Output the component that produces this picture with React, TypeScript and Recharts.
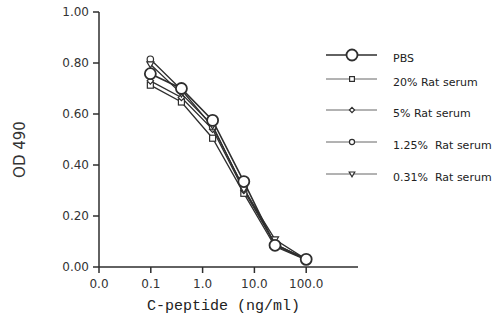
import React from 'react';
import { LineChart, Line, XAxis, YAxis } from 'recharts';

// C-peptide concentrations (ng/ml), fourfold dilutions
const concentrations = [0.098, 0.39, 1.56, 6.25, 25, 100];

const pbs = [0.758, 0.7, 0.575, 0.335, 0.085, 0.03];
const rat20 = [0.713, 0.647, 0.505, 0.289, 0.08, 0.028];
const rat5 = [0.73, 0.665, 0.54, 0.3, 0.09, 0.03];
const rat125 = [0.815, 0.695, 0.55, 0.31, 0.09, 0.03];
const rat031 = [0.795, 0.68, 0.555, 0.305, 0.108, 0.03];

const xTicks = [0.01, 0.1, 1, 10, 100];
const xTickLabels = ['0.0', '0.1', '1.0', '10.0', '100.0'];
const yTicks = [0, 0.2, 0.4, 0.6, 0.8, 1.0];

type Shape = 'bigCircle' | 'square' | 'diamond' | 'circle' | 'triangle';

const series: { key: string; name: string; shape: Shape; values: number[] }[] = [
    { key: 'rat20', name: '20% Rat serum', shape: 'square', values: rat20 },
    { key: 'rat5', name: '5% Rat serum', shape: 'diamond', values: rat5 },
    { key: 'rat125', name: '1.25%  Rat serum', shape: 'circle', values: rat125 },
    { key: 'rat031', name: '0.31%  Rat serum', shape: 'triangle', values: rat031 },
    { key: 'pbs', name: 'PBS', shape: 'bigCircle', values: pbs },
];

const legendOrder = ['pbs', 'rat20', 'rat5', 'rat125', 'rat031'];
const legendRowY = [55, 79, 110, 142, 174];

const data = concentrations.map((c, i) => {
    const row: any = { conc: c };
    series.forEach((s) => {
        row[s.key] = s.values[i];
    });
    return row;
});

const INK = '#2e2e2e';

const Marker = ({ shape, cx, cy, small }: { shape: Shape; cx: number; cy: number; small?: boolean }) => {
    const k = small ? 0.8 : 1;
    switch (shape) {
        case 'bigCircle':
            return <circle cx={cx} cy={cy} r={5.5} fill="#fff" stroke={INK} strokeWidth={1.8} />;
        case 'square':
            return (
                <rect x={cx - 3 * k} y={cy - 3 * k} width={6 * k} height={6 * k} fill="#fff" stroke={INK} strokeWidth={1.2} />
            );
        case 'diamond':
            return (
                <polygon
                    points={`${cx},${cy - 3.2 * k} ${cx + 3.2 * k},${cy} ${cx},${cy + 3.2 * k} ${cx - 3.2 * k},${cy}`}
                    fill="#fff"
                    stroke={INK}
                    strokeWidth={1.2}
                />
            );
        case 'circle':
            return <circle cx={cx} cy={cy} r={3.2 * k} fill="#fff" stroke={INK} strokeWidth={1.2} />;
        case 'triangle':
            return (
                <polygon
                    points={`${cx - 3.5 * k},${cy - 2.5 * k} ${cx + 3.5 * k},${cy - 2.5 * k} ${cx},${cy + 3.5 * k}`}
                    fill="#fff"
                    stroke={INK}
                    strokeWidth={1.2}
                />
            );
    }
    return null;
};

const ChartLegend = () => (
    <svg width={498} height={321} style={{ position: 'absolute', left: 0, top: 0, pointerEvents: 'none' }}>
        {legendOrder.map((k, i) => {
            const s = series.find((x) => x.key === k)!;
            const y = legendRowY[i];
            return (
                <g key={k}>
                    <line
                        x1={326}
                        x2={377}
                        y1={y}
                        y2={y}
                        stroke={k === 'pbs' ? INK : '#666'}
                        strokeWidth={k === 'pbs' ? 1.4 : 1}
                    />
                    <Marker shape={s.shape} cx={352} cy={y} small />
                    <text
                        x={393}
                        y={y + 7}
                        fontSize={11}
                        fontFamily="DejaVu Sans"
                        fill="#222"
                        style={{ whiteSpace: 'pre' }}
                    >
                        {s.name}
                    </text>
                </g>
            );
        })}
    </svg>
);

const App = () => {
    return (
        <div style={{ position: 'absolute', left: 0, top: 0, width: 498, height: 321, background: '#fff' }}>
            <LineChart width={498} height={321} data={data} margin={{ top: 12, right: 140, bottom: 24, left: 0 }}>
                <XAxis
                    dataKey="conc"
                    type="number"
                    scale="log"
                    domain={[0.01, 1000]}
                    ticks={xTicks}
                    tickFormatter={(v: number) => xTickLabels[xTicks.indexOf(v)] ?? ''}
                    height={30}
                    tickSize={6}
                    tickMargin={6}
                    stroke={INK}
                    strokeWidth={1.5}
                    tick={{ fill: '#333', fontSize: 12, fontFamily: 'DejaVu Sans' }}
                    label={{
                        value: 'C-peptide (ng/ml)',
                        position: 'bottom',
                        offset: 2,
                        dx: -5,
                        fontFamily: "'Liberation Mono', monospace",
                        fontSize: 15,
                        fill: '#222',
                        style: { fill: '#222', fontSize: 15, fontFamily: "'Liberation Mono', monospace" },
                    }}
                />
                <YAxis
                    type="number"
                    domain={[0, 1]}
                    ticks={yTicks}
                    tickFormatter={(v: number) => v.toFixed(2)}
                    width={99}
                    tickSize={6}
                    tickMargin={4}
                    stroke={INK}
                    strokeWidth={1.5}
                    tick={{ fill: '#333', fontSize: 12, fontFamily: 'DejaVu Sans' }}
                    label={{
                        value: 'OD 490',
                        angle: -90,
                        position: 'center',
                        dx: -30,
                        dy: 10,
                        style: { fill: '#333', fontSize: 15, fontFamily: 'DejaVu Sans', textAnchor: 'middle' },
                    }}
                />
                {series.map((s) => (
                    <Line
                        key={s.key}
                        dataKey={s.key}
                        name={s.name}
                        type="linear"
                        stroke={INK}
                        strokeWidth={s.key === 'pbs' ? 1.6 : 1.3}
                        isAnimationActive={false}
                        dot={(p: any) => <Marker key={`${s.key}-${p.index}`} shape={s.shape} cx={p.cx} cy={p.cy} />}
                        activeDot={false}
                    />
                ))}
            </LineChart>
            <ChartLegend />
        </div>
    );
};

export default App;
